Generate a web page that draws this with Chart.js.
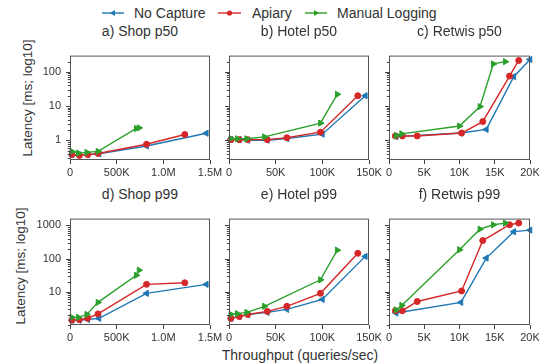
<!DOCTYPE html>
<html>
<head>
<meta charset="utf-8">
<script src="https://cdn.jsdelivr.net/npm/chart.js@4/dist/chart.umd.min.js"></script>
<style>
    body { margin: 0; background: #fff; }
    #wrap { position: relative; width: 539px; height: 364px; overflow: hidden; font-family: "Liberation Sans", Arial, sans-serif; color: #333; }
    #wrap canvas { position: absolute; }
    .txt { position: absolute; white-space: nowrap; line-height: 16px; }
    .title { font-size: 14px; text-align: center; }
    .ylab { font-size: 13.5px; transform: translate(-50%, -50%) rotate(-90deg); }
    #legend { position: absolute; left: 0; top: 0; }
</style>
</head>
<body>
<div id="wrap">
    <svg id="legend" width="539" height="26"></svg>
    <div class="txt ylab" style="left:28px; top:98px;">Latency [ms; log10]</div>
    <div class="txt ylab" style="left:21px; top:266px;">Latency [ms; log10]</div>
    <div class="txt" style="left:0; width:600px; top:347px; text-align:center; font-size:14px;">Throughput (queries/sec)</div>
</div>
<script>
// series names and colours
const seriesNames = ['No Capture', 'Apiary', 'Manual Logging'];
const seriesColors = ['#1f77b4', '#d62728', '#2ca02c'];

// Shop (throughput, queries/sec)
const shopXNoCapture = [20000, 100000, 190000, 310000, 820000, 1460000];
const shopXApiary = [20000, 100000, 190000, 300000, 820000, 1230000];
const shopXManual = [20000, 90000, 180000, 300000, 710000, 740000];
const shopP50NoCapture = [0.38, 0.37, 0.38, 0.40, 0.68, 1.6];
const shopP50Apiary = [0.38, 0.36, 0.38, 0.41, 0.76, 1.47];
const shopP50Manual = [0.47, 0.42, 0.44, 0.47, 2.2, 2.3];
const shopP99NoCapture = [1.4, 1.4, 1.46, 1.58, 9.0, 16.8];
const shopP99Apiary = [1.4, 1.45, 1.6, 2.16, 16.8, 18.7];
const shopP99Manual = [1.7, 1.7, 2.08, 4.8, 31.5, 45];

// Hotel
const hotelXNoCapture = [2000, 11000, 20000, 41000, 62000, 100000, 146000];
const hotelXApiary = [2000, 11000, 20000, 41000, 62000, 98000, 138000];
const hotelXManual = [2000, 9000, 19000, 38000, 98000, 116000];
const hotelP50NoCapture = [1.05, 1.05, 1.0, 1.0, 1.12, 1.5, 20];
const hotelP50Apiary = [1.04, 1.04, 1.04, 1.04, 1.18, 1.72, 20];
const hotelP50Manual = [1.12, 1.1, 1.1, 1.25, 3.16, 22];
const hotelP99NoCapture = [1.58, 1.8, 2.08, 2.4, 2.96, 5.9, 117];
const hotelP99Apiary = [1.58, 1.8, 2.08, 2.57, 3.66, 9.0, 145];
const hotelP99Manual = [2.1, 2.2, 2.4, 3.66, 23, 180];

// Retwis
const retwisXNoCapture = [1000, 10200, 13800, 17700, 20000];
const retwisXApiary = [900, 1900, 4000, 10300, 13300, 17100, 18400];
const retwisXManual = [1000, 1800, 10000, 12900, 14800, 16500];
const retwisP50NoCapture = [1.27, 1.62, 2.07, 72, 230];
const retwisP50Apiary = [1.33, 1.33, 1.33, 1.62, 3.5, 75, 215];
const retwisP50Manual = [1.37, 1.53, 2.6, 9.6, 170, 198];
const retwisP99NoCapture = [2.3, 4.8, 104, 650, 725];
const retwisP99Apiary = [2.7, 2.7, 5.1, 10.6, 350, 1050, 1180];
const retwisP99Manual = [2.85, 3.9, 186, 775, 1050, 1180];

// axis ticks
const shopXTicks = [0, 500000, 1000000, 1500000];
const shopXLabels = ['0', '500K', '1.0M', '1.5M'];
const hotelXTicks = [0, 50000, 100000, 150000];
const hotelXLabels = ['0', '50K', '100K', '150K'];
const retwisXTicks = [0, 5000, 10000, 15000, 20000];
const retwisXLabels = ['0', '5K', '10K', '15K', '20K'];
const p50YMajor = [1, 10, 100];
const p99YMajor = [10, 100, 1000];

const panels = [
    { title: 'a) Shop p50', left: 70, top: 44, w: 140, h: 116, xMax: 1500000, xTicks: shopXTicks, xLabels: shopXLabels, yMin: 0.264, yMax: 298, yMajor: p50YMajor, yLabels: true,
      xs: [shopXNoCapture, shopXApiary, shopXManual], ys: [shopP50NoCapture, shopP50Apiary, shopP50Manual] },
    { title: 'b) Hotel p50', left: 229, top: 44, w: 140, h: 116, xMax: 150000, xTicks: hotelXTicks, xLabels: hotelXLabels, yMin: 0.264, yMax: 298, yMajor: p50YMajor, yLabels: false,
      xs: [hotelXNoCapture, hotelXApiary, hotelXManual], ys: [hotelP50NoCapture, hotelP50Apiary, hotelP50Manual] },
    { title: 'c) Retwis p50', left: 389, top: 44, w: 141, h: 116, xMax: 20000, xTicks: retwisXTicks, xLabels: retwisXLabels, yMin: 0.264, yMax: 298, yMajor: p50YMajor, yLabels: false,
      xs: [retwisXNoCapture, retwisXApiary, retwisXManual], ys: [retwisP50NoCapture, retwisP50Apiary, retwisP50Manual] },
    { title: 'd) Shop p99', left: 70, top: 207, w: 140, h: 118, xMax: 1500000, xTicks: shopXTicks, xLabels: shopXLabels, yMin: 1.0, yMax: 1610, yMajor: p99YMajor, yLabels: true,
      xs: [shopXNoCapture, shopXApiary, shopXManual], ys: [shopP99NoCapture, shopP99Apiary, shopP99Manual] },
    { title: 'e) Hotel p99', left: 229, top: 207, w: 140, h: 118, xMax: 150000, xTicks: hotelXTicks, xLabels: hotelXLabels, yMin: 1.0, yMax: 1610, yMajor: p99YMajor, yLabels: false,
      xs: [hotelXNoCapture, hotelXApiary, hotelXManual], ys: [hotelP99NoCapture, hotelP99Apiary, hotelP99Manual] },
    { title: 'f) Retwis p99', left: 389, top: 207, w: 141, h: 118, xMax: 20000, xTicks: retwisXTicks, xLabels: retwisXLabels, yMin: 1.0, yMax: 1610, yMajor: p99YMajor, yLabels: false,
      xs: [retwisXNoCapture, retwisXApiary, retwisXManual], ys: [retwisP99NoCapture, retwisP99Apiary, retwisP99Manual] },
];

const pointStyles = [
    { style: 'triangle', rotation: -90, radius: 3.6 },
    { style: 'circle', rotation: 0, radius: 3 },
    { style: 'triangle', rotation: 90, radius: 3.6 },
];

const YW = 44, XH = 22, PAD_TOP = 4, PAD_RIGHT = 18;
const wrap = document.getElementById('wrap');

// box around the plot area and log ticks (major longer than minor)
const framePlugin = {
    id: 'frame',
    afterDraw(chart) {
        const { ctx, chartArea: a } = chart;
        const y = chart.scales.y;
        const majors = chart.options.plugins.frame.majors;
        ctx.save();
        ctx.strokeStyle = '#444';
        ctx.lineWidth = 1;
        y.ticks.forEach((t) => {
            const py = Math.round(y.getPixelForValue(t.value)) + 0.5;
            const len = majors.includes(t.value) ? 4 : 2.2;
            ctx.beginPath();
            ctx.moveTo(a.left - len, py);
            ctx.lineTo(a.left, py);
            ctx.stroke();
        });
        ctx.strokeStyle = '#555';
        ctx.strokeRect(a.left + 0.5, a.top + 0.5, a.right - a.left - 1, a.bottom - a.top - 1);
        ctx.restore();
    },
};

panels.forEach((p) => {
    const canvas = document.createElement('canvas');
    canvas.width = p.w + YW + PAD_RIGHT;
    canvas.height = p.h + PAD_TOP + XH;
    canvas.style.left = (p.left - YW) + 'px';
    canvas.style.top = (p.top - PAD_TOP) + 'px';
    wrap.appendChild(canvas);

    const title = document.createElement('div');
    title.className = 'txt title';
    title.style.left = (p.left - 20) + 'px';
    title.style.width = (p.w + 40) + 'px';
    title.style.top = (p.top - 21) + 'px';
    title.textContent = p.title;
    wrap.appendChild(title);

    // draw green, red, blue so green ends on top
    const datasets = [2, 1, 0].map((k) => ({
        label: seriesNames[k],
        data: p.xs[k].map((x, i) => ({ x, y: p.ys[k][i] })),
        borderColor: seriesColors[k],
        backgroundColor: seriesColors[k],
        borderWidth: 1.4,
        pointStyle: pointStyles[k].style,
        pointRotation: pointStyles[k].rotation,
        pointRadius: pointStyles[k].radius,
        pointBorderWidth: 1,
        tension: 0,
        clip: false,
    }));

    new Chart(canvas, {
        type: 'line',
        data: { datasets },
        options: {
            responsive: false,
            animation: false,
            devicePixelRatio: 1,
            layout: { autoPadding: false, padding: { top: PAD_TOP, right: PAD_RIGHT, left: 0, bottom: 0 } },
            plugins: {
                legend: { display: false },
                tooltip: { enabled: false },
                frame: { majors: p.yMajor },
            },
            scales: {
                x: {
                    type: 'linear',
                    min: 0,
                    max: p.xMax,
                    afterFit: (s) => { s.height = XH; },
                    afterBuildTicks: (s) => { s.ticks = p.xTicks.map((v) => ({ value: v })); },
                    grid: { drawOnChartArea: false, drawTicks: true, tickLength: 4, tickColor: '#444' },
                    border: { display: false },
                    ticks: {
                        autoSkip: false,
                        maxRotation: 0,
                        minRotation: 0,
                        padding: 2,
                        color: '#333',
                        font: { family: 'Liberation Sans', size: 11 },
                        callback: (v, i) => p.xLabels[i],
                    },
                },
                y: {
                    type: 'logarithmic',
                    min: p.yMin,
                    max: p.yMax,
                    afterFit: (s) => { s.width = YW; },
                    afterBuildTicks: (s) => {
                        const ticks = [];
                        for (let e = -1; e <= 3; e++) {
                            for (let m = 1; m <= 9; m++) {
                                const v = +(m * Math.pow(10, e)).toPrecision(3);
                                if (v >= p.yMin && v <= p.yMax) ticks.push({ value: v });
                            }
                        }
                        s.ticks = ticks;
                    },
                    grid: { drawOnChartArea: false, drawTicks: false },
                    border: { display: false },
                    ticks: {
                        autoSkip: false,
                        padding: 9,
                        color: '#333',
                        font: { family: 'Liberation Sans', size: 11 },
                        callback: (v) => (p.yLabels && p.yMajor.includes(v) ? String(v) : ''),
                    },
                },
            },
        },
        plugins: [framePlugin],
    });
});

// legend along the top
const legend = document.getElementById('legend');
const ns = 'http://www.w3.org/2000/svg';
const legendItems = [
    { x1: 102, x2: 124, tx: 134 },
    { x1: 218, x2: 241, tx: 252 },
    { x1: 305, x2: 327, tx: 337 },
];
legendItems.forEach((it, k) => {
    const cy = 13;
    const line = document.createElementNS(ns, 'line');
    line.setAttribute('x1', it.x1);
    line.setAttribute('x2', it.x2);
    line.setAttribute('y1', cy);
    line.setAttribute('y2', cy);
    line.setAttribute('stroke', seriesColors[k]);
    line.setAttribute('stroke-width', 1.4);
    legend.appendChild(line);
    const cx = (it.x1 + it.x2) / 2;
    let mark;
    if (k === 1) {
        mark = document.createElementNS(ns, 'circle');
        mark.setAttribute('cx', cx);
        mark.setAttribute('cy', cy);
        mark.setAttribute('r', 2.6);
    } else {
        mark = document.createElementNS(ns, 'polygon');
        const d = k === 0 ? -1 : 1;
        mark.setAttribute('points', `${cx + 3.2 * d},${cy} ${cx - 2 * d},${cy - 3} ${cx - 2 * d},${cy + 3}`);
    }
    mark.setAttribute('fill', seriesColors[k]);
    legend.appendChild(mark);
    const text = document.createElementNS(ns, 'text');
    text.setAttribute('x', it.tx);
    text.setAttribute('y', cy + 5);
    text.setAttribute('font-family', 'Liberation Sans, Arial, sans-serif');
    text.setAttribute('font-size', '14');
    text.setAttribute('fill', '#333');
    text.textContent = seriesNames[k];
    legend.appendChild(text);
});
</script>
</body>
</html>
